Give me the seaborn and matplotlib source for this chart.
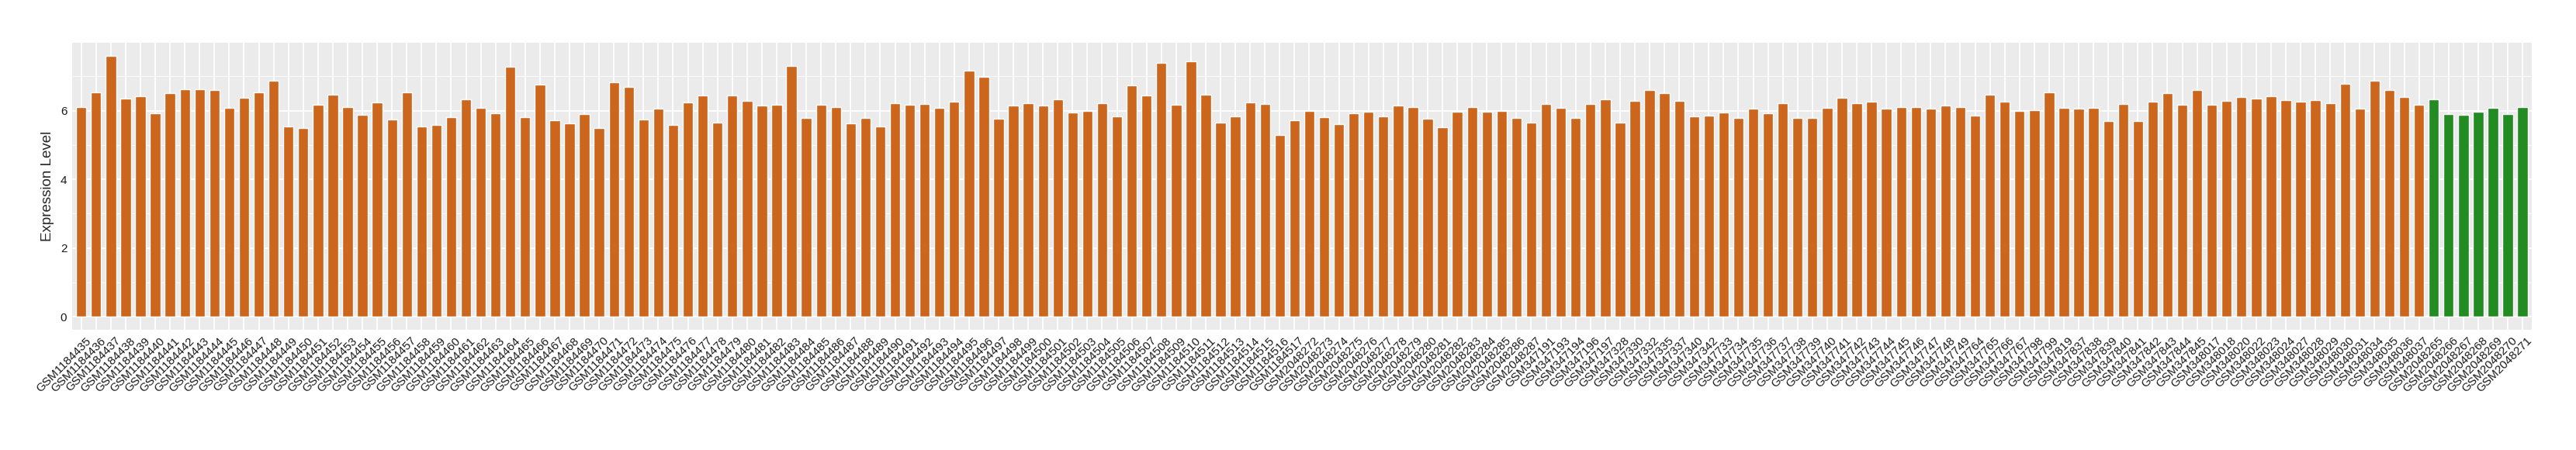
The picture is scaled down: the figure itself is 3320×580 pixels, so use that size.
import pandas as pd
import matplotlib.pyplot as plt
import matplotlib.transforms as mtransforms
import seaborn as sns

# ---- data ----
labels_a = ['GSM1184435', 'GSM1184436', 'GSM1184437', 'GSM1184438', 'GSM1184439', 'GSM1184440',
            'GSM1184441', 'GSM1184442', 'GSM1184443', 'GSM1184444', 'GSM1184445', 'GSM1184446',
            'GSM1184447', 'GSM1184448', 'GSM1184449', 'GSM1184450', 'GSM1184451', 'GSM1184452',
            'GSM1184453', 'GSM1184454', 'GSM1184455', 'GSM1184456', 'GSM1184457', 'GSM1184458',
            'GSM1184459', 'GSM1184460', 'GSM1184461', 'GSM1184462', 'GSM1184463', 'GSM1184464',
            'GSM1184465', 'GSM1184466', 'GSM1184467', 'GSM1184468', 'GSM1184469', 'GSM1184470',
            'GSM1184471', 'GSM1184472', 'GSM1184473', 'GSM1184474', 'GSM1184475', 'GSM1184476',
            'GSM1184477', 'GSM1184478', 'GSM1184479', 'GSM1184480', 'GSM1184481', 'GSM1184482',
            'GSM1184483', 'GSM1184484', 'GSM1184485', 'GSM1184486', 'GSM1184487', 'GSM1184488',
            'GSM1184489', 'GSM1184490', 'GSM1184491', 'GSM1184492', 'GSM1184493', 'GSM1184494',
            'GSM1184495', 'GSM1184496', 'GSM1184497', 'GSM1184498', 'GSM1184499', 'GSM1184500',
            'GSM1184501', 'GSM1184502', 'GSM1184503', 'GSM1184504', 'GSM1184505', 'GSM1184506',
            'GSM1184507', 'GSM1184508', 'GSM1184509', 'GSM1184510', 'GSM1184511', 'GSM1184512',
            'GSM1184513', 'GSM1184514', 'GSM1184515', 'GSM1184516', 'GSM1184517']
values_a = [6.11, 6.54, 7.59, 6.35, 6.41, 5.92, 6.50, 6.62, 6.62, 6.59, 6.09, 6.37,
            6.54, 6.86, 5.54, 5.49, 6.16, 6.47, 6.11, 5.87, 6.24, 5.73, 6.54, 5.54,
            5.58, 5.81, 6.32, 6.09, 5.92, 7.27, 5.81, 6.75, 5.71, 5.62, 5.90, 5.49,
            6.82, 6.69, 5.73, 6.05, 5.58, 6.24, 6.45, 5.64, 6.44, 6.29, 6.14, 6.17,
            7.29, 5.79, 6.17, 6.11, 5.62, 5.79, 5.54, 6.22, 6.16, 6.20, 6.09, 6.26,
            7.16, 6.99, 5.77, 6.14, 6.22, 6.14, 6.32, 5.94, 5.99, 6.22, 5.84, 6.74,
            6.45, 7.40, 6.16, 7.44, 6.47, 5.66, 5.84, 6.24, 6.20, 5.28, 5.71]

labels_b = ['GSM2048272', 'GSM2048273', 'GSM2048274', 'GSM2048275', 'GSM2048276', 'GSM2048277',
            'GSM2048278', 'GSM2048279', 'GSM2048280', 'GSM2048281', 'GSM2048282', 'GSM2048283',
            'GSM2048284', 'GSM2048285', 'GSM2048286', 'GSM2048287']
values_b = [5.99, 5.81, 5.60, 5.92, 5.96, 5.84, 6.14, 6.11, 5.77, 5.51, 5.96, 6.11,
            5.96, 5.99, 5.79, 5.66]

labels_c = ['GSM347191', 'GSM347193', 'GSM347194', 'GSM347196', 'GSM347197', 'GSM347328',
            'GSM347330', 'GSM347332', 'GSM347335', 'GSM347337', 'GSM347340', 'GSM347342',
            'GSM347733', 'GSM347734', 'GSM347735', 'GSM347736', 'GSM347737', 'GSM347738',
            'GSM347739', 'GSM347740', 'GSM347741', 'GSM347742', 'GSM347743', 'GSM347744',
            'GSM347745', 'GSM347746', 'GSM347747', 'GSM347748', 'GSM347749', 'GSM347764',
            'GSM347765', 'GSM347766', 'GSM347767', 'GSM347798', 'GSM347799', 'GSM347819',
            'GSM347837', 'GSM347838', 'GSM347839', 'GSM347840', 'GSM347841', 'GSM347842',
            'GSM347843', 'GSM347844', 'GSM347845']
values_c = [6.20, 6.09, 5.79, 6.20, 6.32, 5.66, 6.29, 6.60, 6.50, 6.29, 5.84, 5.86,
            5.94, 5.79, 6.05, 5.92, 6.22, 5.79, 5.79, 6.09, 6.37, 6.22, 6.26, 6.05,
            6.11, 6.11, 6.05, 6.14, 6.11, 5.86, 6.47, 6.26, 5.99, 6.02, 6.52, 6.07,
            6.05, 6.09, 5.69, 6.20, 5.69, 6.26, 6.50, 6.17, 6.60]

labels_d = ['GSM348017', 'GSM348018', 'GSM348020', 'GSM348022', 'GSM348023', 'GSM348024',
            'GSM348027', 'GSM348028', 'GSM348029', 'GSM348030', 'GSM348031', 'GSM348034',
            'GSM348035', 'GSM348036', 'GSM348037']
values_d = [6.17, 6.29, 6.39, 6.35, 6.41, 6.31, 6.26, 6.31, 6.22, 6.77, 6.05, 6.88,
            6.59, 6.39, 6.16]

# last block drawn in green
labels_e = ['GSM2048265', 'GSM2048266', 'GSM2048267', 'GSM2048268', 'GSM2048269',
            'GSM2048270', 'GSM2048271']
values_e = [6.32, 5.90, 5.87, 5.96, 6.09, 5.90, 6.11]

orange = '#CD661D'
green = '#228B22'

# ---- build the table ----
other_labels = labels_a + labels_b + labels_c + labels_d
other_values = values_a + values_b + values_c + values_d
df = pd.DataFrame({
    'sample': other_labels + labels_e,
    'expr': other_values + values_e,
    'group': ['other'] * len(other_labels) + ['green'] * len(labels_e),
})

# ---- plot ----
sns.set_style('darkgrid', {'axes.facecolor': '#EBEBEB', 'grid.color': 'white'})
plt.rcParams['font.family'] = ['Liberation Sans', 'DejaVu Sans']

fig = plt.figure(figsize=(33.2, 5.8), dpi=100)
ax = fig.add_axes([0.0281, 0.2672, 0.9546, 0.6375])

sns.barplot(data=df, x='sample', y='expr', hue='group',
            palette={'other': orange, 'green': green},
            dodge=False, width=0.7, legend=False, saturation=1, ax=ax)

ax.set_xlim(-0.6, len(df) - 0.4)
ax.set_ylim(-0.38, 7.97)
ax.set_yticks([0, 2, 4, 6])
ax.set_yticks([1, 3, 5, 7], minor=True)
ax.grid(which='major', color='white', linewidth=1.3)
ax.grid(which='minor', axis='y', color='white', linewidth=0.6)
ax.set_axisbelow(True)
for s in ax.spines.values():
    s.set_visible(False)

ax.tick_params(axis='both', which='major', length=3, width=1, color='#333333',
               labelsize=11, labelcolor='#1A1A1A', pad=2)
ax.tick_params(axis='y', which='minor', length=0)

# rotated sample names, nudged right a little like ggplot's hjust/vjust = 1
shift = mtransforms.ScaledTranslation(5 / 100, 0, fig.dpi_scale_trans)
for lab in ax.get_xticklabels():
    lab.set_rotation(45)
    lab.set_ha('right')
    lab.set_va('top')
    lab.set_rotation_mode('anchor')
    lab.set_transform(lab.get_transform() + shift)

ax.set_xlabel('')
ax.set_ylabel('Expression Level', fontsize=13.5, labelpad=6)

fig.savefig('out.png', dpi=100, facecolor='white')
